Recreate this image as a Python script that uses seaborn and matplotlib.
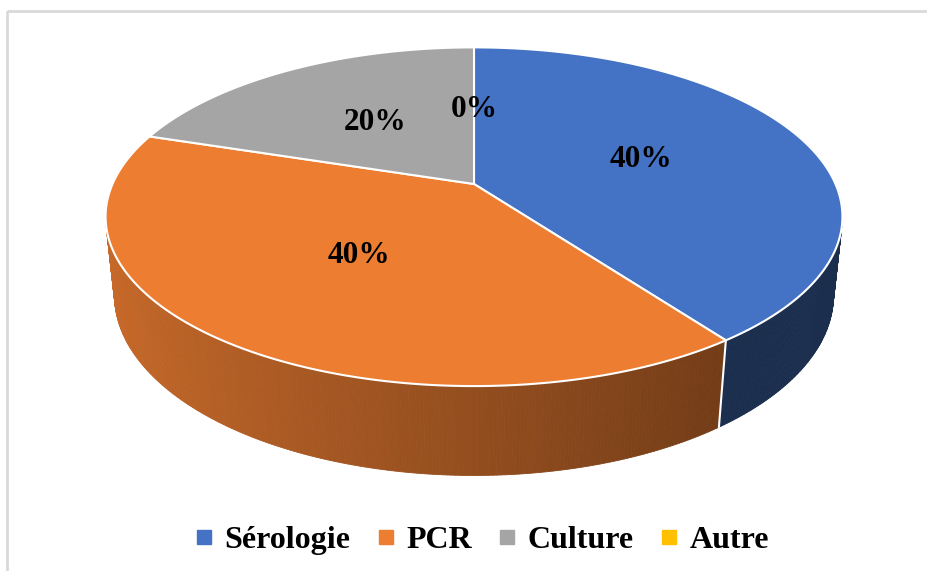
import numpy as np
import matplotlib
matplotlib.use("Agg")
import matplotlib.pyplot as plt
from matplotlib.lines import Line2D
import seaborn as sns

# data
categories = ["Sérologie", "PCR", "Culture", "Autre"]
values = [40, 40, 20, 0]
labels = ["40%", "40%", "20%", "0%"]
hex_colors = ["#4472C4", "#ED7D31", "#A5A5A5", "#FFC000"]

sns.set_theme(style="white")
plt.rcParams['font.family'] = ['Liberation Serif', 'DejaVu Serif']
plt.rcParams['text.color'] = 'black'
colors = sns.color_palette(hex_colors)

# camera for the 3d look
sin_e, cos_e = 0.451, 0.893
dist, k = 4.62, 1670
cx, cy = 474, 184
thick = 0.245


def project(x, y, z):
    depth = dist + y * cos_e - z * sin_e
    return cx + k * x / depth, cy - k * (y * sin_e + z * cos_e) / depth


fig = plt.figure(figsize=(9.28, 5.71), dpi=100)
ax = fig.add_axes([0, 0, 1, 1])
ax.set_xlim(0, 928)
ax.set_ylim(571, 0)
ax.axis('off')

# outer frame
ax.add_patch(plt.Rectangle((7, 11), 940, 580, fill=False, ec='#d9d9d9', lw=2))

total = sum(values)
bounds = 90 - np.cumsum([0] + values) / total * 360   # clockwise from top
starts, ends = bounds[:-1], bounds[1:]


def slice_of(t):
    tt = (t - 90) % 360 - 360   # map into (-360, 0]
    for i in range(len(values)):
        if values[i] > 0 and ends[i] - 90 <= tt <= starts[i] - 90:
            return i
    return 0


# side wall, front half only, far strips first
ts = np.linspace(-180, 0, 361)
strips = []
for a, b in zip(ts[:-1], ts[1:]):
    m = np.radians((a + b) / 2)
    strips.append((np.sin(m), a, b))
strips.sort(key=lambda s: -s[0])
for _, a, b in strips:
    ra, rb = np.radians(a), np.radians(b)
    pts = [project(np.cos(ra), np.sin(ra), 0), project(np.cos(rb), np.sin(rb), 0),
           project(np.cos(rb), np.sin(rb), -thick), project(np.cos(ra), np.sin(ra), -thick)]
    i = slice_of((a + b) / 2)
    shade = 0.62 - 0.23 * np.cos(np.radians((a + b) / 2))
    if i == 0:
        shade = 0.40
    col = tuple(np.array(colors[i]) * shade)
    ax.add_patch(plt.Polygon(pts, closed=True, fc=col, ec=col, lw=0.6))

# white edge on the side at the visible slice boundaries
for bnd in bounds:
    r = np.radians(bnd)
    if np.sin(r) < -0.25:
        p1 = project(np.cos(r), np.sin(r), 0)
        p2 = project(np.cos(r), np.sin(r), -thick)
        ax.plot([p1[0], p2[0]], [p1[1], p2[1]], color='white', lw=1.5)

# top face wedges
for i in range(len(values)):
    if values[i] == 0:
        continue
    th = np.radians(np.linspace(starts[i], ends[i], 200))
    pts = [project(0, 0, 0)] + [project(np.cos(t), np.sin(t), 0) for t in th]
    ax.add_patch(plt.Polygon(pts, closed=True, fc=colors[i], ec='white', lw=1.5))

# percentage labels
for i in range(len(values)):
    mid = np.radians((starts[i] + ends[i]) / 2)
    lx, ly = project(0.5 * np.cos(mid), 0.5 * np.sin(mid), 0)
    ax.text(lx, ly, labels[i], ha='center', va='center', fontsize=22.5,
            fontweight='bold', color='black')

handles = [Line2D([], [], marker='s', linestyle='none', markersize=10,
                  markerfacecolor=colors[i], markeredgecolor=colors[i])
           for i in range(len(categories))]
leg = fig.legend(handles, categories, loc='center', bbox_to_anchor=(0.52, 1 - 540 / 571),
                 ncol=4, frameon=False, prop={'weight': 'bold', 'size': 23},
                 handlelength=0.5, handletextpad=0.4, columnspacing=0.85)
for t in leg.get_texts():
    t.set_color('black')

fig.savefig('out.png', dpi=100)
